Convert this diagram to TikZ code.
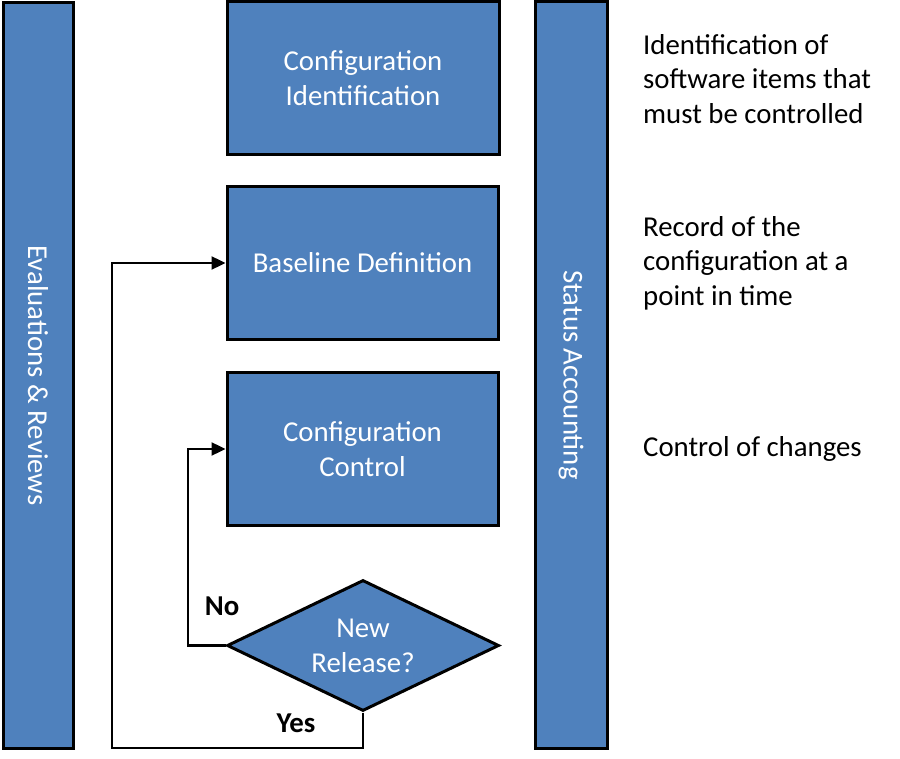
\documentclass[tikz,border=0pt]{standalone}
\usepackage{fontspec}
\setmainfont{Carlito}
\usetikzlibrary{shapes.geometric,arrows.meta}

\definecolor{boxblue}{HTML}{4F81BD}

\tikzset{
  blockbox/.style={draw=black,line width=3pt,fill=boxblue,text=white,
    align=center,inner sep=0pt,font=\fontsize{28.8}{35}\selectfont},
  sidebar/.style={blockbox,rotate=-90},
  flow/.style={line width=2.4pt,-{Triangle[length=14pt,width=13pt]}},
  note/.style={anchor=west,align=left,inner sep=0pt,font=\fontsize{28.8}{34.5}\selectfont}
}

\begin{document}
\begin{tikzpicture}[x=1pt,y=-1pt]
  \useasboundingbox (0,0) rectangle (900,759);

  % side bars
  \node[sidebar,minimum width=745,minimum height=70] (evalbar) at (38,375.5) {Evaluations \& Reviews};
  \node[sidebar,minimum width=746,minimum height=72] (statbar) at (571,375) {Status Accounting};

  % main steps
  \node[blockbox,minimum width=272,minimum height=153] (ident) at (363,78.5) {Configuration\\Identification};
  \node[blockbox,minimum width=271,minimum height=153] (base) at (362.5,263) {Baseline Definition};
  \node[blockbox,minimum width=271,minimum height=153] (ctrl) at (362.5,449) {Configuration\\Control};
  \node[blockbox,diamond,aspect=2.08,minimum width=272,minimum height=131] (rel) at (363,645.5) {New\\Release?};

  % loops back
  \coordinate (nocorner) at (188,645.5);
  \coordinate (yescorner) at (112,748);
  \draw[flow] (rel.west) -- (nocorner) |- (ctrl.west);
  \draw[flow] (rel.south) |- (yescorner) |- (base.west);
  \node[font=\fontsize{28.8}{35}\selectfont\bfseries] (nolbl) at (222,606) {No};
  \node[font=\fontsize{28.8}{35}\selectfont\bfseries] (yeslbl) at (296,723) {Yes};

  % descriptions
  \node[note] (identtxt) at (643,79) {Identification of\\software items that\\must be controlled};
  \node[note] (basetxt) at (643,263) {Record of the\\configuration at a\\point in time};
  \node[note] (ctrltxt) at (643,449) {Control of changes};
\end{tikzpicture}
\end{document}
